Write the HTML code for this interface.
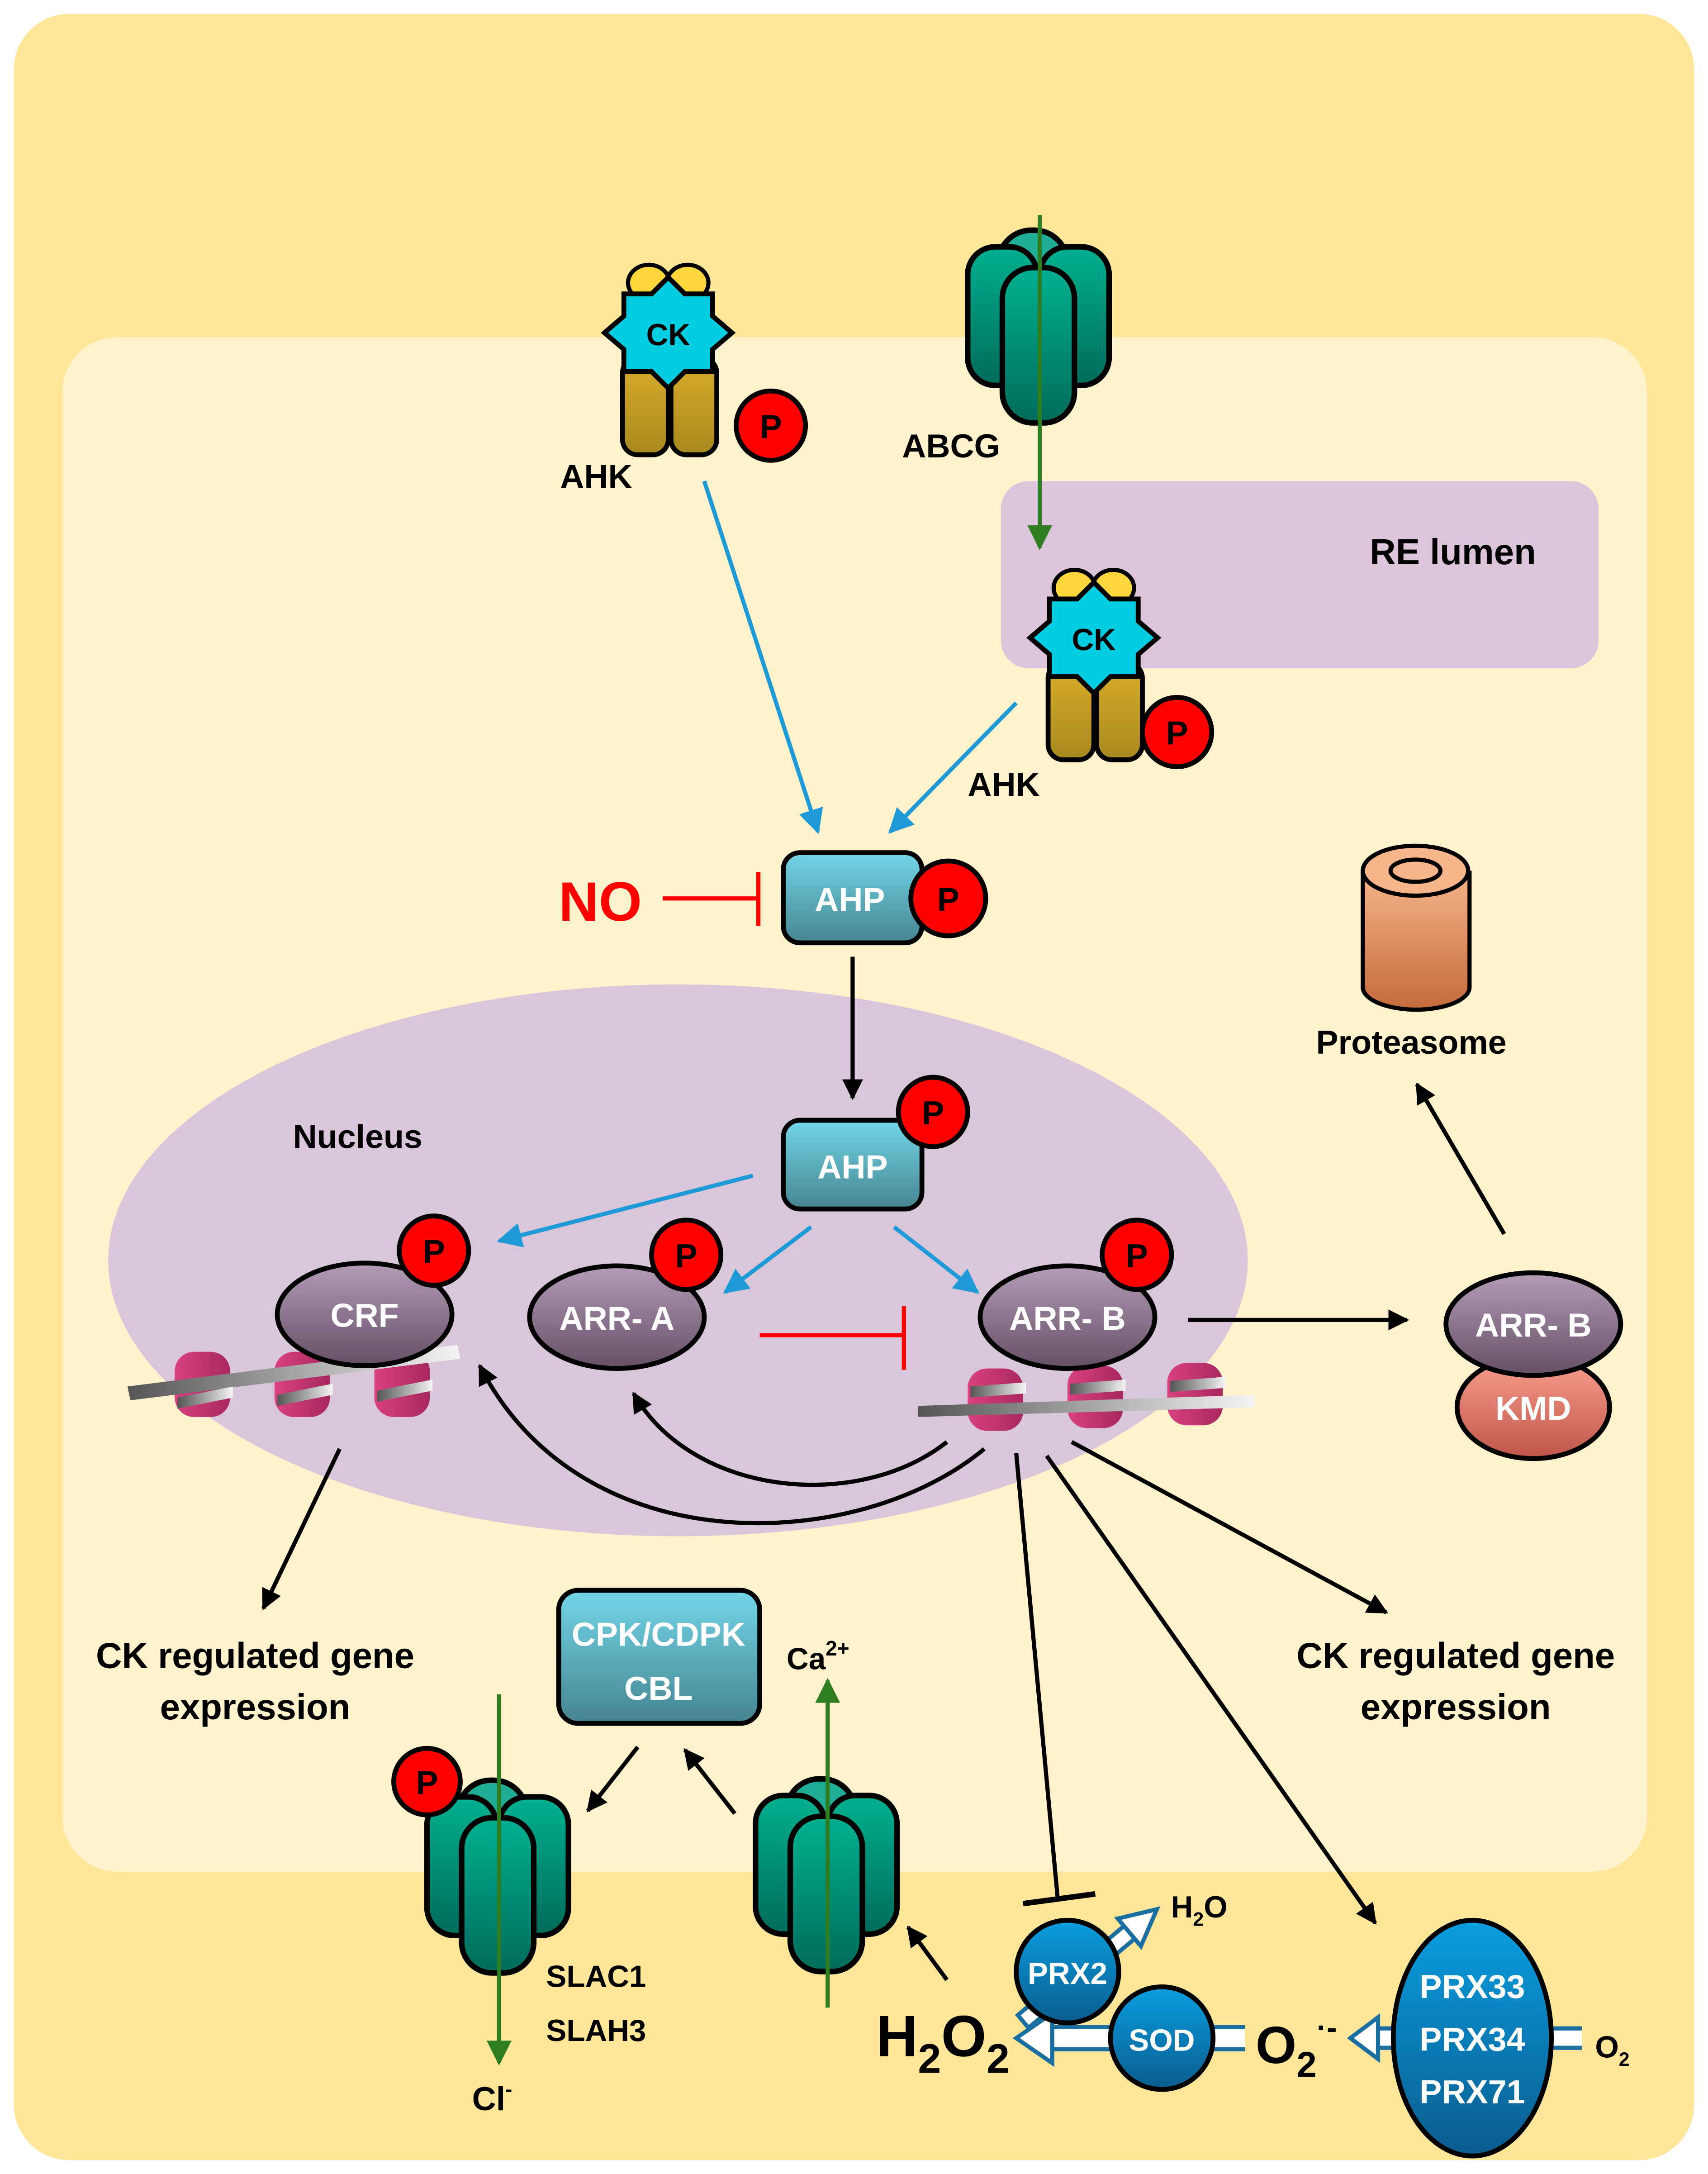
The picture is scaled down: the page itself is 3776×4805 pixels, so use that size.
<!DOCTYPE html>
<html><head><meta charset="utf-8"><style>
html,body{margin:0;padding:0;background:#fff}
svg{display:block}
text{font-family:"Liberation Sans","DejaVu Sans",sans-serif;font-weight:bold}
</style></head><body>
<svg width="3776" height="4805" viewBox="0 0 1232 1568" preserveAspectRatio="none" xmlns="http://www.w3.org/2000/svg">
<defs>
<linearGradient id="gT" x1="0" y1="0" x2="0" y2="1"><stop offset="0" stop-color="#72d6e8"/><stop offset="1" stop-color="#468490"/></linearGradient>
<linearGradient id="gPu" x1="0" y1="0" x2="0" y2="1"><stop offset="0" stop-color="#b49db6"/><stop offset="1" stop-color="#644f67"/></linearGradient>
<linearGradient id="gK" x1="0" y1="0" x2="0" y2="1"><stop offset="0" stop-color="#f9a08f"/><stop offset="1" stop-color="#c0554a"/></linearGradient>
<linearGradient id="gO" x1="0" y1="0" x2="0" y2="1"><stop offset="0" stop-color="#f6b58b"/><stop offset="1" stop-color="#c46a3a"/></linearGradient>
<linearGradient id="gB" x1="0" y1="0" x2="0" y2="1"><stop offset="0" stop-color="#0a9ee0"/><stop offset="1" stop-color="#0b5c8e"/></linearGradient>
<linearGradient id="gG" x1="0" y1="0" x2="0" y2="1"><stop offset="0" stop-color="#00b090"/><stop offset="1" stop-color="#006b59"/></linearGradient>
<linearGradient id="gL" x1="0" y1="0" x2="0" y2="1"><stop offset="0" stop-color="#d9ad2a"/><stop offset="1" stop-color="#a8891e"/></linearGradient>
<linearGradient id="gN" x1="0" y1="0" x2="1" y2="0"><stop offset="0" stop-color="#d9417f"/><stop offset="1" stop-color="#a8285f"/></linearGradient>
<linearGradient id="gD" x1="0" y1="0" x2="1" y2="0"><stop offset="0" stop-color="#555"/><stop offset="1" stop-color="#f4f4f4"/></linearGradient>
<marker id="mk" viewBox="0 0 10 10" refX="9" refY="5" markerWidth="5" markerHeight="5" orient="auto"><path d="M0,0L10,5L0,10z" fill="#000"/></marker>
<marker id="mb" viewBox="0 0 10 10" refX="9" refY="5" markerWidth="6" markerHeight="6" orient="auto"><path d="M0,0L10,5L0,10z" fill="#1e9ad6"/></marker>
<marker id="mg" viewBox="0 0 10 10" refX="9" refY="5" markerWidth="6" markerHeight="6" orient="auto"><path d="M0,0L10,5L0,10z" fill="#2e7d22"/></marker>
<g id="chan">
 <rect x="22" y="-12" width="50" height="60" rx="24" fill="#1fae95" stroke="#000" stroke-width="4"/>
 <rect x="0" y="0" width="50" height="100" rx="20" fill="url(#gG)" stroke="#000" stroke-width="4"/>
 <rect x="52" y="0" width="50" height="100" rx="20" fill="url(#gG)" stroke="#000" stroke-width="4"/>
 <rect x="25" y="15" width="52" height="112" rx="22" fill="url(#gG)" stroke="#000" stroke-width="4"/>
</g>
<g id="ahk">
 <ellipse cx="-14" cy="-36" rx="15" ry="13" fill="#fcd63b" stroke="#000" stroke-width="3"/>
 <ellipse cx="14" cy="-36" rx="15" ry="13" fill="#fcd63b" stroke="#000" stroke-width="3"/>
 <rect x="-33" y="18" width="33" height="70" rx="11" fill="url(#gL)" stroke="#000" stroke-width="3.5"/>
 <rect x="2" y="18" width="33" height="70" rx="11" fill="url(#gL)" stroke="#000" stroke-width="3.5"/>
 <polygon points="0,-40 12,-28 32,-28 32,-12 46,0 32,12 32,28 12,28 0,40 -12,28 -32,28 -32,12 -46,0 -32,-12 -32,-28 -12,-28" fill="#00cce2" stroke="#000" stroke-width="3.5"/>
</g>
</defs>
<rect width="1232" height="1568" fill="#fff"/>
<rect x="10" y="10" width="1212" height="1548" rx="40" fill="#ffe699"/>
<rect x="45" y="243" width="1143" height="1107" rx="40" fill="#fff2cc"/>
<rect x="722" y="347" width="431" height="135" rx="20" fill="#dcc5da"/>
<text x="1048" y="407" font-size="26" text-anchor="middle">RE lumen</text>
<ellipse cx="489" cy="909" rx="411" ry="199" fill="#d9c6da"/>
<text x="258" y="828" font-size="24" text-anchor="middle">Nucleus</text>

<!-- AHK 1 -->
<use href="#ahk" x="482" y="240"/>
<text x="482" y="249" font-size="22" text-anchor="middle" font-weight="normal">CK</text>
<circle cx="556" cy="307" r="25" fill="#f00" stroke="#000" stroke-width="3.5"/><text x="556" y="316" font-size="24" text-anchor="middle">P</text>
<text x="430" y="352" font-size="24" text-anchor="middle">AHK</text>
<!-- ABCG -->
<use href="#chan" x="698" y="178"/>
<line x1="750" y1="155" x2="750" y2="395" stroke="#2e7d22" stroke-width="3" marker-end="url(#mg)"/>
<text x="686" y="330" font-size="24" text-anchor="middle">ABCG</text>
<!-- AHK 2 -->
<use href="#ahk" x="789" y="460"/>
<text x="789" y="469" font-size="22" text-anchor="middle" font-weight="normal">CK</text>
<circle cx="849" cy="528" r="25" fill="#f00" stroke="#000" stroke-width="3.5"/><text x="849" y="537" font-size="24" text-anchor="middle">P</text>
<text x="724" y="574" font-size="24" text-anchor="middle">AHK</text>

<line x1="508" y1="347" x2="590" y2="600" stroke="#1e9ad6" stroke-width="3" marker-end="url(#mb)"/>
<line x1="733" y1="507" x2="642" y2="600" stroke="#1e9ad6" stroke-width="3" marker-end="url(#mb)"/>

<text x="433" y="664" font-size="40" fill="#f00" text-anchor="middle">NO</text>
<line x1="478" y1="648" x2="547" y2="648" stroke="#f00" stroke-width="3"/>
<line x1="547" y1="629" x2="547" y2="668" stroke="#f00" stroke-width="3"/>
<rect x="565" y="615" width="100" height="65" rx="12" fill="url(#gT)" stroke="#000" stroke-width="3.5"/>
<text x="613" y="657" font-size="24" fill="#fff" text-anchor="middle">AHP</text>
<circle cx="684" cy="648" r="27" fill="#f00" stroke="#000" stroke-width="3.5"/><text x="684" y="657" font-size="24" text-anchor="middle">P</text>
<line x1="615" y1="690" x2="615" y2="792" stroke="#000" stroke-width="3" marker-end="url(#mk)"/>

<rect x="565" y="808" width="100" height="64" rx="12" fill="url(#gT)" stroke="#000" stroke-width="3.5"/>
<text x="615" y="850" font-size="24" fill="#fff" text-anchor="middle">AHP</text>
<circle cx="673" cy="802" r="25" fill="#f00" stroke="#000" stroke-width="3.5"/><text x="673" y="811" font-size="24" text-anchor="middle">P</text>

<line x1="543" y1="848" x2="360" y2="895" stroke="#1e9ad6" stroke-width="3" marker-end="url(#mb)"/>
<line x1="585" y1="885" x2="523" y2="932" stroke="#1e9ad6" stroke-width="3" marker-end="url(#mb)"/>
<line x1="645" y1="885" x2="705" y2="932" stroke="#1e9ad6" stroke-width="3" marker-end="url(#mb)"/>

<!-- DNA left -->
<g>
 <rect x="126" y="975" width="40" height="47" rx="14" fill="url(#gN)"/>
 <rect x="198" y="975" width="40" height="47" rx="14" fill="url(#gN)"/>
 <rect x="270" y="975" width="40" height="47" rx="14" fill="url(#gN)"/>
 <polygon points="92,1000 330,970 332,980 94,1010" fill="url(#gD)"/>
 <polygon points="128,1008 168,1000 168,1008 128,1016" fill="url(#gD)"/>
 <polygon points="200,1006 240,998 240,1006 200,1014" fill="url(#gD)"/>
 <polygon points="272,1003 312,995 312,1003 272,1011" fill="url(#gD)"/>
</g>
<ellipse cx="263" cy="948" rx="63" ry="37" fill="url(#gPu)" stroke="#000" stroke-width="3.5"/>
<text x="263" y="957" font-size="24" fill="#fff" text-anchor="middle">CRF</text>
<circle cx="313" cy="902" r="25" fill="#f00" stroke="#000" stroke-width="3.5"/><text x="313" y="911" font-size="24" text-anchor="middle">P</text>
<ellipse cx="445" cy="950" rx="63" ry="37" fill="url(#gPu)" stroke="#000" stroke-width="3.5"/>
<text x="445" y="959" font-size="24" fill="#fff" text-anchor="middle">ARR- A</text>
<circle cx="495" cy="905" r="25" fill="#f00" stroke="#000" stroke-width="3.5"/><text x="495" y="914" font-size="24" text-anchor="middle">P</text>
<line x1="548" y1="963" x2="652" y2="963" stroke="#f00" stroke-width="3"/>
<line x1="652" y1="942" x2="652" y2="988" stroke="#f00" stroke-width="3"/>

<!-- DNA right -->
<g>
 <rect x="698" y="987" width="40" height="45" rx="14" fill="url(#gN)"/>
 <rect x="770" y="985" width="40" height="45" rx="14" fill="url(#gN)"/>
 <rect x="842" y="983" width="40" height="45" rx="14" fill="url(#gN)"/>
 <polygon points="662,1014 905,1006 905,1015 662,1022" fill="url(#gD)"/>
 <polygon points="700,1000 740,997 740,1005 700,1008" fill="url(#gD)"/>
 <polygon points="772,998 812,995 812,1003 772,1006" fill="url(#gD)"/>
 <polygon points="844,996 884,993 884,1001 844,1004" fill="url(#gD)"/>
</g>
<ellipse cx="770" cy="950" rx="63" ry="37" fill="url(#gPu)" stroke="#000" stroke-width="3.5"/>
<text x="770" y="959" font-size="24" fill="#fff" text-anchor="middle">ARR- B</text>
<circle cx="820" cy="905" r="25" fill="#f00" stroke="#000" stroke-width="3.5"/><text x="820" y="914" font-size="24" text-anchor="middle">P</text>
<line x1="857" y1="952" x2="1015" y2="952" stroke="#000" stroke-width="3" marker-end="url(#mk)"/>

<ellipse cx="1106" cy="1015" rx="55" ry="37" fill="url(#gK)" stroke="#000" stroke-width="3.5"/>
<text x="1106" y="1024" font-size="24" fill="#fff" text-anchor="middle">KMD</text>
<ellipse cx="1106" cy="955" rx="63" ry="37" fill="url(#gPu)" stroke="#000" stroke-width="3.5"/>
<text x="1106" y="964" font-size="24" fill="#fff" text-anchor="middle">ARR- B</text>
<line x1="1085" y1="890" x2="1022" y2="782" stroke="#000" stroke-width="3" marker-end="url(#mk)"/>

<!-- proteasome -->
<path d="M983,628 L983,712 A38,16 0 0 0 1060,712 L1060,628" fill="url(#gO)" stroke="#000" stroke-width="3"/>
<ellipse cx="1021" cy="628" rx="38" ry="18" fill="#f6b58b" stroke="#000" stroke-width="3"/>
<ellipse cx="1021" cy="628" rx="18" ry="8" fill="#f6b58b" stroke="#000" stroke-width="3"/>
<text x="1018" y="760" font-size="24" text-anchor="middle">Proteasome</text>

<!-- curves -->
<path d="M683,1040 C620,1090 500,1080 457,1005" fill="none" stroke="#000" stroke-width="3" marker-end="url(#mk)"/>
<path d="M710,1045 C620,1120 420,1130 346,985" fill="none" stroke="#000" stroke-width="3" marker-end="url(#mk)"/>

<line x1="245" y1="1045" x2="190" y2="1160" stroke="#000" stroke-width="3" marker-end="url(#mk)"/>
<line x1="773" y1="1040" x2="1000" y2="1163" stroke="#000" stroke-width="3" marker-end="url(#mk)"/>
<line x1="755" y1="1050" x2="992" y2="1387" stroke="#000" stroke-width="3" marker-end="url(#mk)"/>
<line x1="733" y1="1048" x2="763" y2="1370" stroke="#000" stroke-width="3"/>
<line x1="738" y1="1373" x2="790" y2="1366" stroke="#000" stroke-width="4"/>

<text x="184" y="1203" font-size="26" text-anchor="middle">CK regulated gene</text>
<text x="184" y="1240" font-size="26" text-anchor="middle">expression</text>
<text x="1050" y="1203" font-size="26" text-anchor="middle">CK regulated gene</text>
<text x="1050" y="1240" font-size="26" text-anchor="middle">expression</text>

<rect x="403" y="1147" width="145" height="96" rx="14" fill="url(#gT)" stroke="#000" stroke-width="3.5"/>
<text x="475" y="1187" font-size="24" fill="#fff" text-anchor="middle">CPK/CDPK</text>
<text x="475" y="1226" font-size="24" fill="#fff" text-anchor="middle">CBL</text>

<!-- Ca channel -->
<use href="#chan" x="545" y="1295"/>
<line x1="597" y1="1448" x2="597" y2="1212" stroke="#2e7d22" stroke-width="3" marker-end="url(#mg)"/>
<text x="590" y="1204" font-size="22" text-anchor="middle">Ca<tspan dy="-10" font-size="15">2+</tspan></text>
<!-- SLAC -->
<use href="#chan" x="308" y="1296"/>
<line x1="360" y1="1222" x2="360" y2="1488" stroke="#2e7d22" stroke-width="3" marker-end="url(#mg)"/>
<circle cx="308" cy="1285" r="24" fill="#f00" stroke="#000" stroke-width="3.5"/><text x="308" y="1294" font-size="24" text-anchor="middle">P</text>
<text x="430" y="1433" font-size="22" text-anchor="middle">SLAC1</text>
<text x="430" y="1472" font-size="22" text-anchor="middle">SLAH3</text>
<text x="355" y="1522" font-size="24" text-anchor="middle">Cl<tspan dy="-10" font-size="15">-</tspan></text>

<line x1="460" y1="1260" x2="424" y2="1306" stroke="#000" stroke-width="3" marker-end="url(#mk)"/>
<line x1="530" y1="1308" x2="494" y2="1262" stroke="#000" stroke-width="3" marker-end="url(#mk)"/>
<line x1="683" y1="1428" x2="655" y2="1390" stroke="#000" stroke-width="3" marker-end="url(#mk)"/>

<!-- hollow arrows -->
<g transform="translate(738,1458) rotate(-40)">
 <rect x="0" y="-6" width="104" height="12" fill="#fff" stroke="#1b6fa0" stroke-width="3"/>
 <polygon points="100,-13 126,0 100,13" fill="#fff" stroke="#1b6fa0" stroke-width="3"/>
</g>
<g transform="translate(905,1470) rotate(180)">
 <rect x="0" y="-8" width="148" height="16" fill="#fff" stroke="#1b6fa0" stroke-width="3"/>
 <polygon points="146,-18 172,0 146,18" fill="#fff" stroke="#1b6fa0" stroke-width="3"/>
</g>
<g transform="translate(1150,1470) rotate(180)">
 <rect x="0" y="-7" width="158" height="14" fill="#fff" stroke="#1b6fa0" stroke-width="3"/>
 <polygon points="156,-15 176,0 156,15" fill="#fff" stroke="#1b6fa0" stroke-width="3"/>
</g>
<text x="865" y="1383" font-size="22" text-anchor="middle" font-weight="normal">H<tspan dy="6" font-size="14">2</tspan><tspan dy="-6">O</tspan></text>
<circle cx="770" cy="1422" r="37" fill="url(#gB)" stroke="#000" stroke-width="3.5"/>
<text x="770" y="1431" font-size="22" fill="#fff" text-anchor="middle">PRX2</text>
<circle cx="838" cy="1470" r="37" fill="url(#gB)" stroke="#000" stroke-width="3.5"/>
<text x="838" y="1479" font-size="22" fill="#fff" text-anchor="middle">SOD</text>
<text x="680" y="1483" font-size="42" text-anchor="middle">H<tspan dy="12" font-size="30">2</tspan><tspan dy="-12">O</tspan><tspan dy="12" font-size="30">2</tspan></text>
<rect x="898" y="1445" width="72" height="60" fill="#ffe699"/>
<text x="935" y="1488" font-size="38" text-anchor="middle">O<tspan dy="10" font-size="26">2</tspan><tspan dy="-28" font-size="22">·-</tspan></text>
<ellipse cx="1062" cy="1470" rx="57" ry="85" fill="url(#gB)" stroke="#000" stroke-width="3.5"/>
<text x="1062" y="1441" font-size="24" fill="#fff" text-anchor="middle">PRX33</text>
<text x="1062" y="1479" font-size="24" fill="#fff" text-anchor="middle">PRX34</text>
<text x="1062" y="1517" font-size="24" fill="#fff" text-anchor="middle">PRX71</text>
<rect x="1141" y="1455" width="45" height="40" fill="#ffe699"/>
<text x="1163" y="1484" font-size="22" text-anchor="middle" font-weight="normal">O<tspan dy="6" font-size="14">2</tspan></text>
</svg>
</body></html>
